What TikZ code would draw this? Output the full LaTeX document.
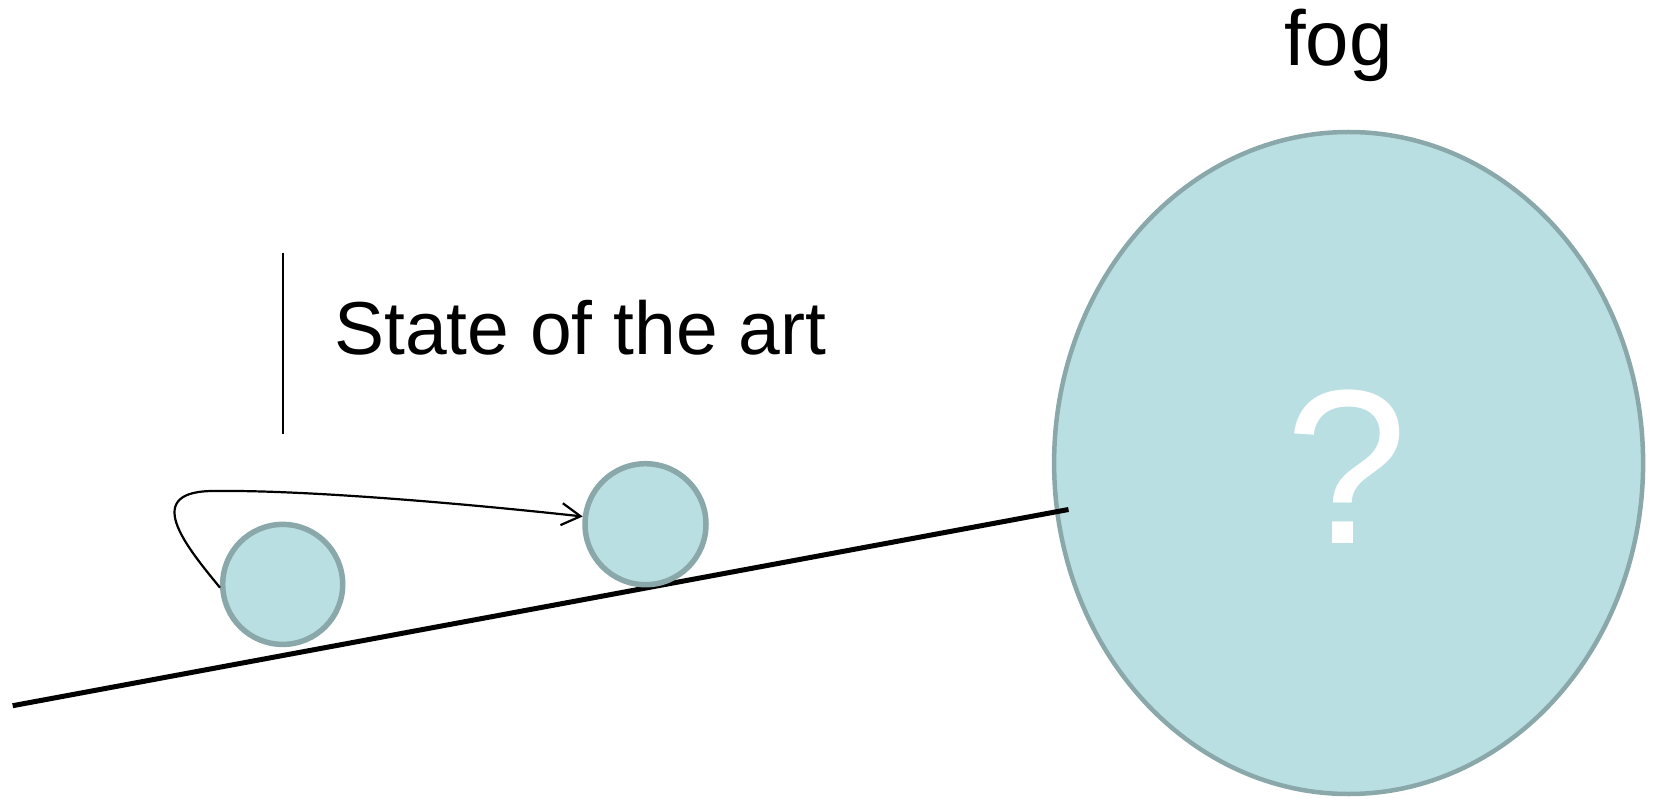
\documentclass[tikz,border=0pt]{standalone}
\usepackage{fontspec}
\setmainfont{Liberation Sans}
\usetikzlibrary{shapes.geometric,arrows.meta}
\definecolor{bubblefill}{RGB}{186,223,227}
\definecolor{bubbleline}{RGB}{138,168,170}
\tikzset{
  bubble/.style={ellipse, draw=bubbleline, fill=bubblefill, line width=5.5pt, inner sep=0pt},
  bigtext/.style={inner sep=0pt, anchor=base, font=\fontsize{75}{80}\selectfont},
  ground/.style={line width=5pt, black},
  thinline/.style={line width=2.2pt, black},
}
\begin{document}
\begin{tikzpicture}[x=1pt,y=-1pt]
\useasboundingbox (0,0) rectangle (1654,799);
% ground line
\coordinate (g1) at (12.7,705.7);
\coordinate (g2) at (1068.5,509.5);
% big fog ellipse
\node[bubble, line width=4.5pt, minimum width=589pt, minimum height=662pt] (fogball) at (1348.6,463) {};
\draw[ground] (g1) -- (g2);
% small balls
\node[bubble, minimum width=120pt, minimum height=120pt] (c1) at (282.7,584.4) {};
\node[bubble, minimum width=121pt, minimum height=121pt] (c2) at (645.5,524.2) {};
% question mark
\node[inner sep=0pt, anchor=base, text=white, font=\fontsize{220}{230}\selectfont] (q) at (1347,543) {?};
% fog label
\node[bigtext, font=\fontsize{78}{80}\selectfont] (fog) at (1338.5,65.4) {fog};
% state of the art
\coordinate (v1) at (282.7,253);
\coordinate (v2) at (282.7,433.5);
\draw[thinline] (v1) -- (v2);
\node[bigtext, anchor=base west] (sota) at (334,355) {State of the art};
% arrow loop
\coordinate (top) at (216,491);
\draw[thinline, -{Straight Barb[length=19pt,width=22pt,line width=2.2pt]}]
  (c1.183) .. controls (185,545) and (140,490) .. (top)
  .. controls (300,490) and (450,502) .. (c2.173);
\end{tikzpicture}
\end{document}
